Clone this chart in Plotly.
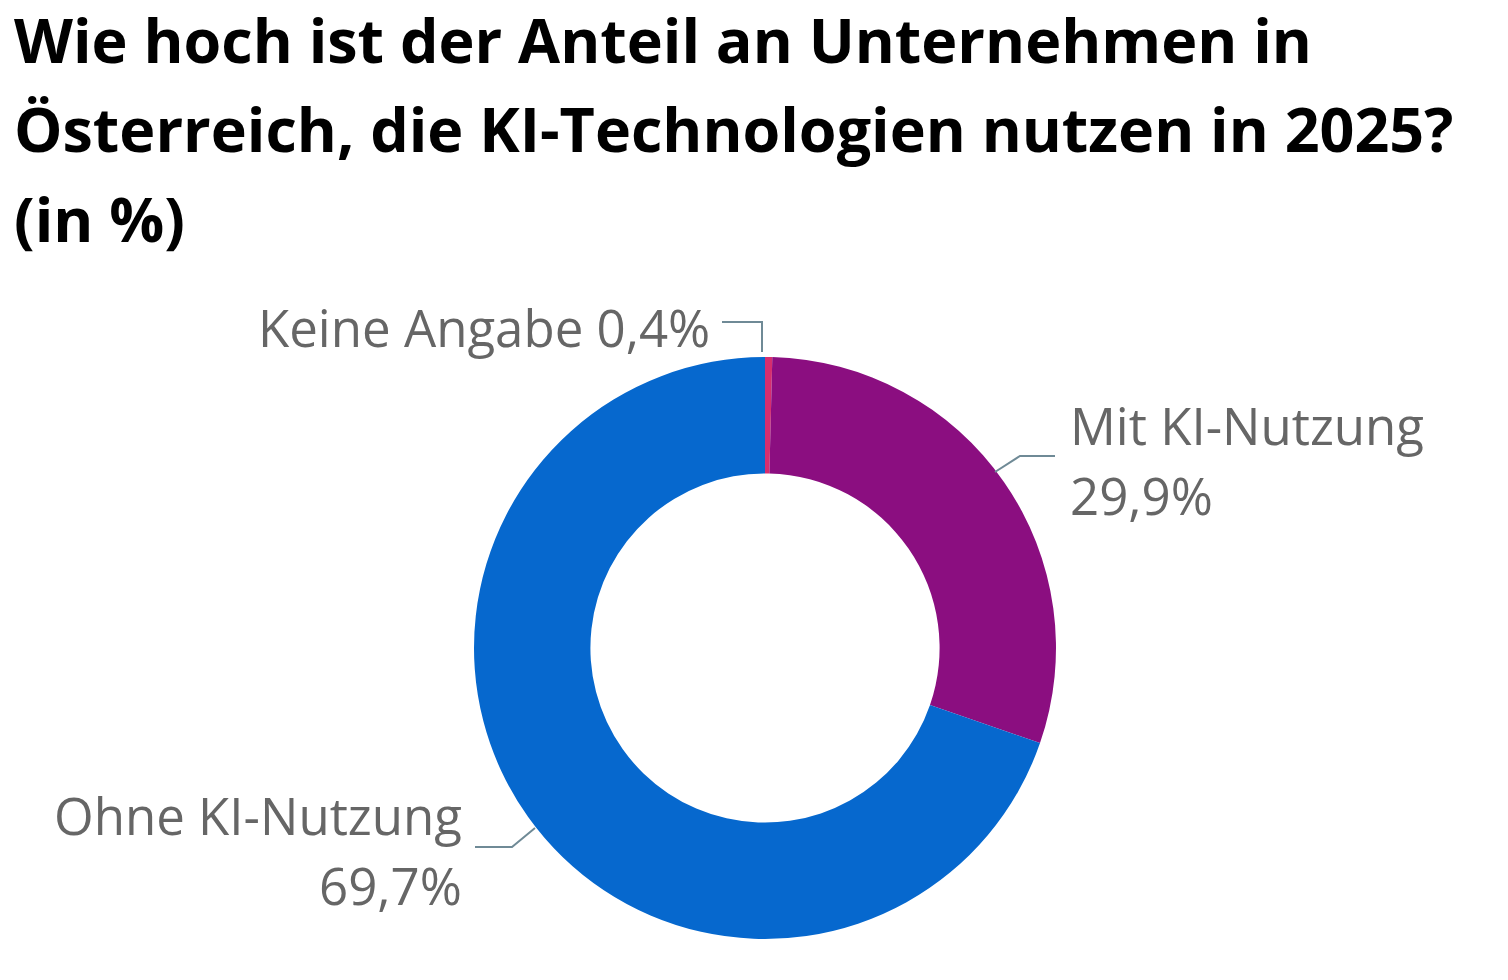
import plotly.graph_objects as go

labels = ["Keine Angabe", "Mit KI-Nutzung", "Ohne KI-Nutzung"]
values = [0.4, 29.9, 69.7]
colors = ["#D62E6E", "#8B0E80", "#0668CE"]
title_lines = ["Wie hoch ist der Anteil an Unternehmen in",
               "Österreich, die KI-Technologien nutzen in 2025?",
               "(in %)"]

W, H = 1508, 980
OFF = 8
def px(x): return (x - OFF) / W
def py(y): return 1 - (y - OFF) / H

fig = go.Figure(go.Pie(
    labels=labels, values=values, hole=0.6, sort=False, direction="clockwise",
    rotation=0, marker=dict(colors=colors, line=dict(width=0)), textinfo="none",
    hoverinfo="label+percent", showlegend=False,
    domain=dict(x=[px(765-291), px(765+291)], y=[py(648+291), py(648-291)])
))

ann = []
for i, (t, y) in enumerate(zip(title_lines, [40, 128, 218])):
    ann.append(dict(text="<b>%s</b>" % t, x=px(12), y=py(y), xref="paper", yref="paper",
                    xanchor="left", yanchor="middle", showarrow=False,
                    font=dict(family="Open Sans", size=61, color="#000")))
lab_font = dict(family="Open Sans", size=51, color="#666666")
def fmt(v): return ("%.1f" % v).replace(".", ",") + "%"
ann.append(dict(text=f"{labels[0]} {fmt(values[0])}", x=px(712), y=py(327), xanchor="right"))
ann.append(dict(text=labels[1], x=px(1068), y=py(425), xanchor="left"))
ann.append(dict(text=fmt(values[1]), x=px(1068), y=py(495), xanchor="left"))
ann.append(dict(text=labels[2], x=px(464), y=py(815), xanchor="right"))
ann.append(dict(text=fmt(values[2]), x=px(464), y=py(885), xanchor="right"))
for a in ann[3:]:
    a.update(xref="paper", yref="paper", yanchor="middle", showarrow=False, font=lab_font)

def path(pts):
    return "M " + " L ".join(f"{px(x)},{py(y)}" for x, y in pts)
shapes = [dict(type="path", xref="paper", yref="paper", path=path(p),
               line=dict(color="#6F8A96", width=2))
          for p in [[(722, 322), (762, 322), (762, 352)],
                    [(995, 472), (1020, 456), (1055, 456)],
                    [(475, 847), (512, 847), (535, 828)]]]

fig.update_layout(width=W, height=H, margin=dict(l=0, r=0, t=0, b=0),
                  paper_bgcolor="white", annotations=ann, shapes=shapes)
fig.write_html("out.html")
